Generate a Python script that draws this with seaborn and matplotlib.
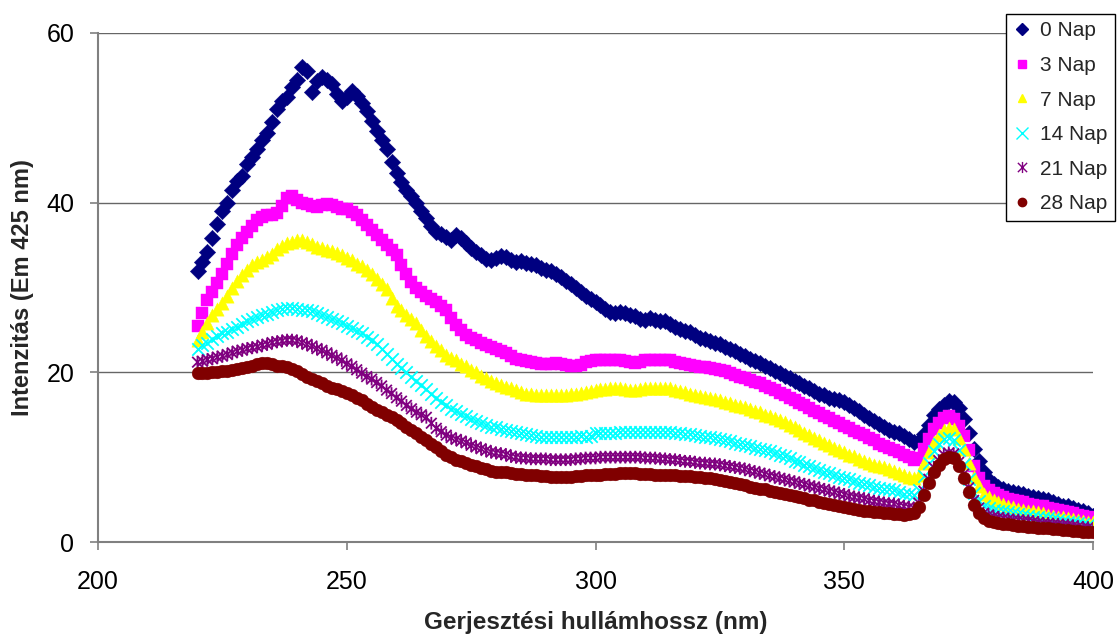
import numpy as np
import pandas as pd
import matplotlib
matplotlib.use("Agg")
import matplotlib.pyplot as plt
from matplotlib.path import Path
from matplotlib.lines import Line2D
import seaborn as sns

# ---------------- data (1 nm steps) ----------------
wavelength = list(range(220, 401))

nap0 = [32.0, 33.0, 34.2, 35.8, 37.5, 39.0, 40.0, 41.5, 42.5, 43.2,
        44.5, 45.4, 46.3, 47.4, 48.2, 49.5, 51.0, 52.0, 52.5, 53.6,
        54.5, 56.0, 55.5, 53.0, 54.3, 54.8, 54.5, 54.0, 52.8, 52.0,
        52.5, 53.2, 52.6, 51.8, 50.8, 49.6, 48.5, 47.4, 46.3, 44.8,
        43.5, 42.4, 41.5, 40.8, 40.0, 39.0, 38.2, 37.2, 36.6, 36.3,
        36.0, 35.6, 36.2, 35.8, 35.2, 34.6, 34.2, 33.8, 33.4, 33.2,
        33.5, 33.7, 33.6, 33.2, 33.0, 33.1, 32.9, 32.8, 32.6, 32.3,
        32.1, 31.9, 31.6, 31.2, 30.8, 30.4, 30.0, 29.5, 29.0, 28.6,
        28.3, 27.9, 27.5, 27.1, 27.0, 27.1, 27.0, 26.8, 26.6, 26.3,
        26.2, 26.4, 26.2, 26.1, 26.0, 25.7, 25.4, 25.1, 24.9, 24.7,
        24.4, 24.1, 23.9, 23.7, 23.5, 23.3, 23.0, 22.8, 22.5, 22.2,
        21.9, 21.6, 21.3, 21.1, 20.8, 20.5, 20.2, 19.9, 19.6, 19.3,
        19.0, 18.7, 18.4, 18.1, 17.8, 17.5, 17.3, 17.0, 16.8, 16.7,
        16.5, 16.2, 15.8, 15.4, 15.0, 14.6, 14.3, 13.9, 13.5, 13.2,
        13.0, 12.8, 12.5, 12.1, 11.8, 11.9, 12.7, 13.8, 15.0, 15.7,
        16.2, 16.6, 16.5, 15.8, 14.5, 12.8, 11.0, 9.5, 8.2, 7.3,
        6.8, 6.5, 6.2, 6.0, 5.9, 5.8, 5.6, 5.4, 5.3, 5.2,
        5.1, 4.9, 4.7, 4.5, 4.3, 4.2, 4.0, 3.8, 3.6, 3.4,
        3.1]

nap3 = [25.5, 27.0, 28.5, 29.5, 30.5, 31.6, 32.8, 34.0, 35.0, 35.8,
        36.5, 37.3, 38.0, 38.3, 38.5, 38.6, 38.8, 39.6, 40.5, 40.8,
        40.3, 40.0, 39.8, 39.6, 39.5, 39.7, 39.8, 39.7, 39.5, 39.3,
        39.2, 38.9, 38.5, 38.0, 37.4, 36.8, 36.2, 35.6, 35.0, 34.4,
        33.8, 32.6, 31.6, 30.7, 30.0, 29.5, 29.0, 28.6, 28.3, 27.8,
        27.3, 26.4, 25.6, 25.0, 24.4, 24.1, 23.8, 23.5, 23.2, 23.0,
        22.7, 22.5, 22.3, 21.9, 21.6, 21.4, 21.3, 21.2, 21.1, 21.0,
        21.0, 21.0, 21.1, 21.0, 20.9, 20.8, 20.7, 20.9, 21.2, 21.3,
        21.4, 21.4, 21.4, 21.5, 21.5, 21.4, 21.3, 21.2, 21.1, 21.2,
        21.4, 21.5, 21.5, 21.5, 21.5, 21.4, 21.2, 21.1, 21.0, 20.9,
        20.7, 20.6, 20.6, 20.5, 20.4, 20.3, 20.1, 19.9, 19.7, 19.5,
        19.3, 19.1, 18.9, 18.7, 18.4, 18.2, 17.9, 17.6, 17.3, 17.0,
        16.7, 16.4, 16.1, 15.8, 15.5, 15.2, 14.9, 14.6, 14.3, 14.0,
        13.7, 13.4, 13.1, 12.9, 12.6, 12.3, 12.0, 11.6, 11.3, 11.1,
        10.9, 10.6, 10.3, 10.0, 9.7, 9.9, 11.0, 12.2, 13.3, 14.0,
        14.6, 14.8, 14.5, 13.7, 12.5, 10.8, 9.0, 7.6, 6.6, 6.1,
        5.8, 5.5, 5.3, 5.1, 5.0, 4.8, 4.7, 4.5, 4.4, 4.3,
        4.2, 4.0, 3.9, 3.8, 3.7, 3.5, 3.4, 3.2, 3.1, 3.0,
        2.8]

nap7 = [23.8, 24.8, 25.8, 26.7, 27.5, 28.2, 29.0, 29.9, 30.8, 31.5,
        32.1, 32.6, 33.0, 33.3, 33.6, 34.0, 34.5, 34.9, 35.2, 35.4,
        35.6, 35.6, 35.4, 35.1, 34.8, 34.6, 34.4, 34.3, 34.1, 33.8,
        33.5, 33.2, 32.8, 32.5, 32.1, 31.6, 31.0, 30.4, 29.8, 28.8,
        27.8, 27.3, 26.8, 26.3, 25.8, 25.0, 24.3, 23.7, 23.1, 22.6,
        22.1, 21.7, 21.4, 21.0, 20.7, 20.3, 20.0, 19.6, 19.3, 19.0,
        18.8, 18.5, 18.3, 18.1, 17.9, 17.7, 17.5, 17.4, 17.3, 17.3,
        17.3, 17.3, 17.3, 17.3, 17.3, 17.4, 17.5, 17.6, 17.7, 17.8,
        17.9, 18.0, 18.0, 18.1, 18.2, 18.1, 18.0, 17.9, 17.9, 18.0,
        18.1, 18.2, 18.2, 18.2, 18.2, 18.1, 17.9, 17.8, 17.7, 17.5,
        17.3, 17.2, 17.1, 17.0, 16.9, 16.7, 16.5, 16.4, 16.2, 16.0,
        15.9, 15.7, 15.5, 15.3, 15.0, 14.8, 14.6, 14.4, 14.1, 13.8,
        13.5, 13.2, 12.9, 12.6, 12.3, 12.0, 11.7, 11.4, 11.1, 10.8,
        10.6, 10.3, 10.1, 9.8, 9.6, 9.3, 9.1, 8.9, 8.8, 8.6,
        8.4, 8.1, 7.9, 7.7, 7.5, 7.9, 9.3, 10.6, 11.8, 12.6,
        13.2, 13.4, 13.3, 12.3, 11.0, 9.3, 7.7, 6.6, 5.7, 5.3,
        5.0, 4.7, 4.5, 4.3, 4.1, 3.9, 3.8, 3.7, 3.6, 3.5,
        3.4, 3.2, 3.1, 3.0, 2.9, 2.8, 2.7, 2.6, 2.5, 2.4,
        2.3]

nap14 = [22.8, 23.2, 23.5, 23.9, 24.3, 24.6, 24.8, 25.1, 25.4, 25.7,
         26.0, 26.3, 26.5, 26.7, 26.9, 27.1, 27.3, 27.5, 27.6, 27.6,
         27.5, 27.4, 27.3, 27.2, 27.0, 26.8, 26.5, 26.3, 26.0, 25.8,
         25.5, 25.2, 24.9, 24.6, 24.2, 23.8, 23.3, 22.8, 22.2, 21.6,
         21.0, 20.5, 20.0, 19.5, 19.0, 18.5, 18.0, 17.5, 17.0, 16.5,
         16.1, 15.7, 15.4, 15.1, 14.8, 14.5, 14.3, 14.0, 13.8, 13.6,
         13.5, 13.3, 13.2, 13.1, 13.0, 12.8, 12.7, 12.6, 12.5, 12.4,
         12.4, 12.4, 12.4, 12.4, 12.4, 12.4, 12.4, 12.5, 12.4, 12.5,
         12.8, 12.8, 12.8, 12.9, 12.9, 13.0, 13.0, 13.0, 13.0, 13.0,
         13.0, 13.0, 13.0, 13.0, 13.0, 13.0, 12.9, 12.8, 12.7, 12.7,
         12.6, 12.5, 12.4, 12.4, 12.3, 12.2, 12.0, 11.9, 11.7, 11.6,
         11.4, 11.3, 11.1, 11.0, 10.8, 10.7, 10.5, 10.3, 10.1, 9.9,
         9.6, 9.4, 9.1, 8.9, 8.7, 8.5, 8.3, 8.1, 7.9, 7.7,
         7.5, 7.4, 7.2, 7.0, 6.8, 6.7, 6.5, 6.4, 6.3, 6.2,
         6.1, 5.9, 5.6, 5.6, 5.5, 6.1, 7.8, 9.3, 10.7, 11.5,
         12.2, 12.3, 12.0, 10.8, 9.2, 7.4, 5.8, 4.8, 4.3, 4.0,
         3.8, 3.7, 3.6, 3.5, 3.4, 3.3, 3.2, 3.1, 3.0, 2.9,
         2.8, 2.8, 2.7, 2.6, 2.5, 2.4, 2.3, 2.2, 2.1, 2.0,
         1.8]

nap21 = [21.2, 21.3, 21.5, 21.6, 21.8, 21.9, 22.1, 22.3, 22.5, 22.6,
         22.8, 22.9, 23.0, 23.2, 23.3, 23.5, 23.6, 23.7, 23.8, 23.8,
         23.7, 23.5, 23.3, 23.1, 22.8, 22.6, 22.3, 22.0, 21.7, 21.4,
         21.0, 20.7, 20.3, 19.9, 19.5, 19.2, 18.8, 18.4, 17.9, 17.5,
         17.0, 16.6, 16.1, 15.7, 15.3, 15.0, 14.7, 14.0, 13.4, 13.0,
         12.6, 12.3, 12.1, 11.9, 11.7, 11.4, 11.2, 11.0, 10.8, 10.6,
         10.5, 10.4, 10.3, 10.1, 10.0, 9.9, 9.9, 9.8, 9.8, 9.8,
         9.8, 9.7, 9.7, 9.7, 9.7, 9.7, 9.8, 9.8, 9.9, 9.9,
         9.9, 10.0, 10.0, 10.0, 10.0, 10.0, 10.0, 10.0, 10.0, 10.0,
         9.9, 9.9, 9.9, 9.8, 9.8, 9.7, 9.7, 9.6, 9.5, 9.5,
         9.4, 9.3, 9.3, 9.2, 9.2, 9.1, 9.0, 8.9, 8.8, 8.7,
         8.6, 8.4, 8.3, 8.1, 8.0, 7.8, 7.7, 7.5, 7.4, 7.2,
         7.1, 6.9, 6.8, 6.6, 6.5, 6.3, 6.2, 6.0, 5.9, 5.7,
         5.6, 5.4, 5.3, 5.2, 5.1, 4.9, 4.8, 4.7, 4.6, 4.5,
         4.5, 4.3, 4.2, 4.1, 4.0, 4.6, 6.0, 7.4, 8.8, 9.6,
         10.3, 10.5, 10.4, 9.4, 8.0, 6.4, 4.9, 4.0, 3.4, 3.2,
         3.0, 2.9, 2.8, 2.7, 2.6, 2.6, 2.5, 2.5, 2.4, 2.3,
         2.2, 2.2, 2.1, 2.1, 2.0, 2.0, 1.9, 1.8, 1.7, 1.7,
         1.6]

nap28 = [19.9, 19.9, 19.9, 20.0, 20.0, 20.1, 20.2, 20.3, 20.4, 20.5,
         20.6, 20.8, 21.0, 21.1, 21.1, 21.0, 20.8, 20.7, 20.6, 20.4,
         20.2, 19.8, 19.5, 19.2, 19.0, 18.7, 18.4, 18.2, 18.0, 17.8,
         17.6, 17.3, 17.0, 16.7, 16.3, 15.9, 15.6, 15.3, 15.0, 14.7,
         14.4, 14.0, 13.6, 13.2, 12.8, 12.4, 12.0, 11.6, 11.2, 10.7,
         10.3, 10.0, 9.7, 9.5, 9.3, 9.1, 8.9, 8.7, 8.6, 8.4,
         8.3, 8.2, 8.2, 8.1, 8.0, 8.0, 7.9, 7.9, 7.9, 7.8,
         7.8, 7.7, 7.7, 7.7, 7.7, 7.7, 7.8, 7.8, 7.9, 7.9,
         7.9, 7.9, 8.0, 8.0, 8.0, 8.1, 8.1, 8.1, 8.1, 8.0,
         8.0, 8.0, 7.9, 7.9, 7.9, 7.9, 7.9, 7.8, 7.8, 7.8,
         7.7, 7.7, 7.6, 7.5, 7.4, 7.3, 7.2, 7.1, 7.0, 6.8,
         6.7, 6.5, 6.4, 6.3, 6.2, 6.0, 5.9, 5.8, 5.7, 5.5,
         5.4, 5.3, 5.2, 5.0, 4.9, 4.7, 4.6, 4.5, 4.4, 4.2,
         4.1, 4.0, 3.9, 3.8, 3.7, 3.6, 3.5, 3.5, 3.4, 3.4,
         3.3, 3.3, 3.2, 3.3, 3.4, 4.1, 5.5, 6.9, 8.2, 9.1,
         9.8, 10.0, 9.9, 8.9, 7.5, 5.9, 4.4, 3.4, 2.8, 2.5,
         2.3, 2.2, 2.1, 2.1, 2.0, 1.9, 1.9, 1.8, 1.8, 1.7,
         1.7, 1.6, 1.5, 1.5, 1.4, 1.4, 1.3, 1.3, 1.2, 1.2,
         1.2]

series_labels = ["0 Nap", "3 Nap", "7 Nap", "14 Nap", "21 Nap", "28 Nap"]
series_values = [nap0, nap3, nap7, nap14, nap21, nap28]

x_ticks = [200, 250, 300, 350, 400]
y_ticks = [0, 20, 40, 60]
x_label = "Gerjesztési hullámhossz (nm)"
y_label = "Intenzitás (Em 425 nm)"

# ---------------- styling ----------------
colors = ["#000080", "#FF00FF", "#FFFF00", "#00FFFF", "#800080", "#800000"]
star = Path([(-0.5, -0.5), (0.5, 0.5), (-0.5, 0.5), (0.5, -0.5), (0, -0.6), (0, 0.6)],
            [Path.MOVETO, Path.LINETO, Path.MOVETO, Path.LINETO, Path.MOVETO, Path.LINETO])
markers = ["D", "s", "^", "x", star, "o"]
sizes = [70, 74, 92, 80, 84, 84]
kinds = ["filled", "filled", "filled", "x", "star", "filled"]

sns.set_theme(style="white")
plt.rcParams["font.family"] = ["Liberation Sans", "DejaVu Sans"]

fig = plt.figure(figsize=(11.18, 6.37), dpi=100)
ax = fig.add_axes([98 / 1118, 95 / 637, 995 / 1118, 509 / 637])

rows = []
for lab, vals in zip(series_labels, series_values):
    for xv, yv in zip(wavelength, vals):
        rows.append((xv, yv, lab))
df = pd.DataFrame(rows, columns=["wl", "val", "series"])

for lab, col, mk, sz, kd in zip(series_labels, colors, markers, sizes, kinds):
    sub = df[df["series"] == lab]
    if kd == "filled":
        sns.scatterplot(data=sub, x="wl", y="val", ax=ax, marker=mk, s=sz,
                        color=col, edgecolor=col, linewidth=0.3, legend=False, zorder=3)
    elif kd == "x":
        sns.scatterplot(data=sub, x="wl", y="val", ax=ax, marker=mk, s=sz,
                        color=col, linewidth=1.3, legend=False, zorder=3)
    else:
        sns.scatterplot(data=sub, x="wl", y="val", ax=ax, marker=mk, s=sz,
                        color=col, edgecolor=col, facecolor="none", linewidth=1.3,
                        legend=False, zorder=3)

ax.set_xlim(200, 400)
ax.set_ylim(0, 60)
ax.set_xticks(x_ticks)
ax.set_yticks(y_ticks)
ax.set_facecolor("white")
for side in ["top", "right"]:
    ax.spines[side].set_visible(False)
for side in ["left", "bottom"]:
    ax.spines[side].set_color("#808080")
    ax.spines[side].set_linewidth(1.5)
ax.yaxis.grid(True, color="#666666", linewidth=1.0)
ax.set_axisbelow(True)
ax.tick_params(axis="both", direction="out", length=6, width=1.2, color="#808080",
               labelsize=18, labelcolor="black", left=True, bottom=True)
ax.tick_params(axis="x", pad=14)
ax.tick_params(axis="y", pad=11)
ax.set_xlabel(x_label, fontsize=17.5, fontweight="bold")
ax.set_ylabel(y_label, fontsize=17, fontweight="bold")
ax.xaxis.set_label_coords(0.5, -(611 - 542) / 509)
ax.yaxis.set_label_coords(-(98 - 34) / 995, 0.5)

handles = []
for col, mk, kd in zip(colors, markers, kinds):
    if kd == "filled":
        h = Line2D([], [], linestyle="none", marker=mk, color=col, markersize=6,
                   markeredgecolor=col)
    else:
        h = Line2D([], [], linestyle="none", marker=mk, color=col, markersize=8,
                   markeredgewidth=1.0)
    handles.append(h)
leg = fig.legend(handles, series_labels, loc="upper right",
                 bbox_to_anchor=(1115 / 1118, 1 - 14 / 637), fontsize=15,
                 frameon=True, fancybox=False, framealpha=1, edgecolor="black",
                 borderpad=0.35, labelspacing=0.75, handlelength=0.8,
                 handletextpad=0.5, borderaxespad=0)
leg.get_frame().set_linewidth(1.0)

fig.savefig("out.png", dpi=100)
